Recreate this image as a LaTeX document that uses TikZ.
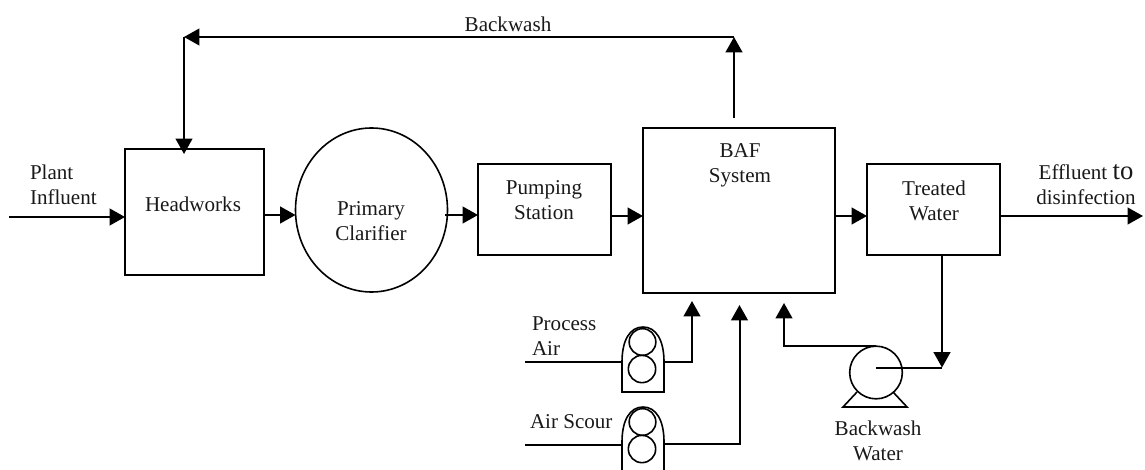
\documentclass[tikz,border=0pt]{standalone}
\usepackage{fontspec}
\setmainfont{Liberation Serif}
\usetikzlibrary{arrows.meta,shapes.geometric}
\tikzset{
  x=0.75pt,y=-0.75pt,
  every node/.style={font=\fontsize{15.8}{18.75}\selectfont,text=black!90},
  line/.style={draw=black,line width=1.5pt,line join=miter},
  flow/.style={line,-{Triangle[length=11.5pt,width=12.5pt]}},
  boxnode/.style={line,inner sep=0pt,outer sep=0pt,align=center},
  txt/.style={inner sep=0pt,outer sep=0pt,align=center},
  txtl/.style={inner sep=0pt,outer sep=0pt,align=left},
  lobe/.style={draw=black,line width=1.2pt,circle,inner sep=0pt,outer sep=0pt},
  thin line/.style={draw=black,line width=1.2pt}
}
\begin{document}
\begin{tikzpicture}
\useasboundingbox (0,0) rectangle (1145,470);
\clip (0,0) rectangle (1145,470);
% boxes
\node[boxnode,minimum width=104.25pt,minimum height=94.5pt] (head) at (194.5,212) {};
\node[txt] at (193,204) {Headworks};
\node[thin line,ellipse,inner sep=0pt,outer sep=0pt,minimum width=114pt,minimum height=123pt] (clar) at (371.5,210) {};
\node[txt] at (371,221.5) {Primary\\Clarifier};
\node[boxnode,minimum width=100pt,minimum height=68.25pt] (pump) at (544.5,209.5) {};
\node[txt] at (544,200.5) {Pumping\\Station};
\node[boxnode,minimum width=144pt,minimum height=123pt] (baf) at (739,210.5) {};
\node[txt] at (740,165.5) {BAF\\System};
\node[boxnode,minimum width=99.75pt,minimum height=68.25pt] (treat) at (933.5,209.5) {};
\node[txt] at (934,200.5) {Treated\\Water};
% labels
\node[txt] at (508,24) {Backwash};
\node[txtl,anchor=west] at (30,184.5) {Plant\\Influent};
\node[txt] at (1086,185) {Effluent {\fontsize{20}{18.75}\selectfont to}\\disinfection};
\node[txtl,anchor=west] at (532,336) {Process\\Air};
\node[txtl,anchor=west] at (530,422) {Air Scour};
\node[txt] at (878,441) {Backwash\\Water};
% coordinates
\coordinate (inL) at (9,217);
\coordinate (inR) at (125,217);
\coordinate (hOut) at (263,215);
\coordinate (cIn) at (295.5,215);
\coordinate (cOut) at (445,215);
\coordinate (pIn) at (478,215);
\coordinate (pOut) at (612,216);
\coordinate (bIn) at (643,216);
\coordinate (bOut) at (835,216);
\coordinate (tIn) at (867,216);
\coordinate (tOut) at (1000,216);
\coordinate (outR) at (1143,216);
\coordinate (bwCorner) at (734,37);
\coordinate (bwEnd) at (184,37);
\coordinate (bwTip) at (184,154);
\coordinate (bwStart) at (734,118);
% main flow
\draw[flow] (inL) -- (inR);
\draw[flow] (hOut) -- (cIn);
\draw[flow] (cOut) -- (pIn);
\draw[flow] (pOut) -- (bIn);
\draw[flow] (bOut) -- (tIn);
\draw[flow] (tOut) -- (outR);
% backwash
\draw[flow] (bwStart) -- (bwCorner);
\draw[flow] (bwCorner) -- (bwEnd);
\draw[flow] (bwEnd) -- (bwTip);
% blower 1
\draw[thin line] (622,392) -- (622,362) .. controls (622,340) and (630,327) .. (643,327) .. controls (656,327) and (664,340) .. (664,362) -- (664,392) -- cycle;
\node[lobe,minimum size=20pt] (b1a) at (642.5,342) {};
\node[lobe,minimum size=20.5pt] (b1b) at (642,369) {};
% blower 2
\draw[thin line] (622,470) -- (622,442) .. controls (622,420) and (630,407) .. (643,407) .. controls (656,407) and (664,420) .. (664,442) -- (664,470);
\node[lobe,minimum size=20pt] (b2a) at (642.5,422) {};
\node[lobe,minimum size=20.5pt] (b2b) at (642,449) {};
% air lines
\coordinate (pa0) at (525,362);
\coordinate (pa1) at (622,362);
\coordinate (pa2) at (664,362);
\coordinate (pa3) at (692,362);
\coordinate (paTip) at (692,301);
\draw[line] (pa0) -- (pa1);
\draw[flow] (pa2) -- (pa3) -- (paTip);
\coordinate (as0) at (525,445);
\coordinate (as1) at (622,445);
\coordinate (as2) at (664,444);
\coordinate (as3) at (739.5,444);
\coordinate (asTip) at (739.5,305);
\draw[line] (as0) -- (as1);
\draw[flow] (as2) -- (as3) -- (asTip);
% pump
\node[lobe,minimum size=39.5pt] (bwp) at (876,372.5) {};
\draw[thin line] (857,392) -- (843,407) -- (907,407) -- (893,392);
\coordinate (bafRet) at (784,303);
\draw[flow] (bwp.north) -- (bwp.north -| bafRet) -- (bafRet);
\coordinate (bwpC) at (876,367.5);
\coordinate (twDrop) at (942,367.5);
\draw[line] (bwpC) -- (twDrop);
\draw[flow] (treat.south -| twDrop) -- (twDrop);
\end{tikzpicture}
\end{document}
